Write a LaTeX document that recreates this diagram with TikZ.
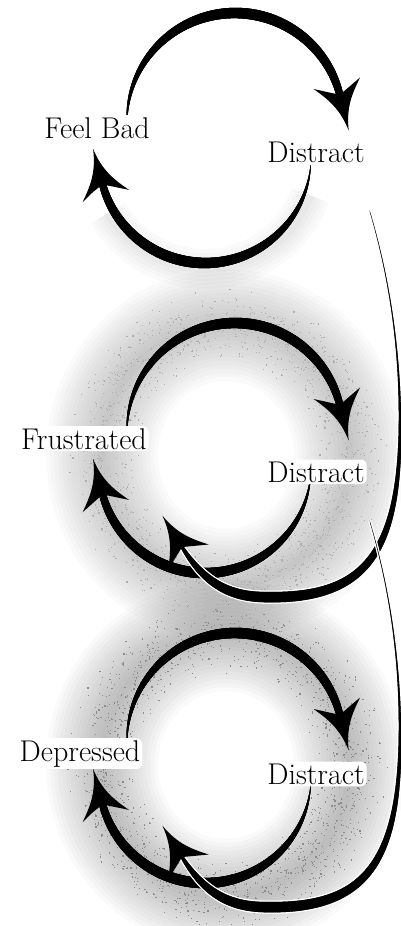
\documentclass[tikz,border=0pt]{standalone}
\usepackage{tikz}
\usetikzlibrary{decorations.markings, calc}

\colorlet{ink}{black!90}
\colorlet{speck}{black!45}

% swept arrow head, drawn in the frame of a mark (x = along the path)
\newcommand{\swepthead}{%
  \fill (37pt,0pt) .. controls (14pt,3pt) and (2pt,12pt) .. (-12pt,24pt)
      .. controls (-5pt,12pt) .. (0pt,0pt)
      .. controls (-5pt,-12pt) .. (-12pt,-24pt)
      .. controls (2pt,-12pt) and (14pt,-3pt) .. (37pt,0pt) -- cycle;}

\tikzset{
  % tapered stroke: {start width}{end width}{bulge}{exponent}
  brush/.style n args={4}{decorate, decoration={markings,
      mark=between positions 0 and 1 step 0.003 with {%
        \pgfmathsetmacro\tpos{(\pgfkeysvalueof{/pgf/decoration/mark info/sequence number}-1)*0.003}%
        \pgfmathsetmacro\brushw{#1*(1-\tpos)+#2*\tpos+#3*sin(180*\tpos^#4)}%
        \draw[line width=\brushw pt] (-1.7pt,0pt) -- (1.7pt,0pt);}}},
  % thin white rim under a brush stroke
  rim/.style n args={4}{decorate, decoration={markings,
      mark=between positions 0 and 1 step 0.003 with {%
        \pgfmathsetmacro\tpos{(\pgfkeysvalueof{/pgf/decoration/mark info/sequence number}-1)*0.003}%
        \pgfmathsetmacro\brushw{2.6+#1*(1-\tpos)+#2*\tpos+#3*sin(180*\tpos^#4)}%
        \draw[white, line width=\brushw pt] (-1.7pt,0pt) -- (1.7pt,0pt);}}},
  headmark/.style={decorate, decoration={markings,
      mark=at position 0.9999 with {\swepthead}}},
  feeling/.style={font=\fontsize{30}{34}\selectfont, fill=white, inner sep=2pt,
      rounded corners=6pt, anchor=base},
  haze/.style={ink, opacity=#1},
}

% one swept stroke: body and head
\newcommand{\sweep}[2]{%
  \path[brush=#1] #2;
  \path[headmark] #2;}

\begin{document}
\begin{tikzpicture}[x=1pt, y=-1pt]

    \useasboundingbox (0,0) rectangle (401,926);

    % Ring centres: upper arc (t) and lower arc (b) of each loop
    \coordinate (t1) at (235,121); \coordinate (b1) at (205,157);
    \coordinate (t2) at (235,431); \coordinate (b2) at (205,467);
    \coordinate (t3) at (235,741); \coordinate (b3) at (205,777);
    % Haze centres
    \coordinate (h2) at (226,455);
    \coordinate (h3) at (226,765);

    % --- HAZE ---
    \foreach \w in {8,16,...,40} {
        \draw[haze=0.02, line width=\w pt] ($(b1)+(20:112)$) arc[start angle=20, end angle=150, radius=112];
    }
    \foreach \w in {8,16,...,112} {
        \draw[haze=0.018, line width=\w pt] (h2) ellipse [x radius=124, y radius=130];
        \draw[haze=0.024, line width=\w pt] (h3) ellipse [x radius=124, y radius=130];
    }
    \pgfmathsetseed{17}
    \foreach \i in {1,...,1500} {
        \pgfmathsetmacro\ang{360*rnd}
        \pgfmathsetmacro\rad{1+0.15*(rand+rand)}
        \fill[speck!70!white] ($(h2)+({124*\rad*cos(\ang)},{130*\rad*sin(\ang)})$) rectangle ++(1.2,1.2);
        \fill[speck] ($(h3)+({124*\rad*sin(\ang)},{130*\rad*cos(\ang)})$) rectangle ++(1.2,1.2);
    }

    % --- LOOP 1 ---
    % Feel Bad -> Distract (over the top)
    \sweep{{0.3}{7}{6.5}{1}}{($(t1)+(178:108)$) arc[start angle=178, end angle=346, radius=108]}
    % Distract -> Feel Bad (round the bottom)
    \sweep{{0.3}{7}{6.5}{1}}{($(b1)+(5:106)$) arc[start angle=5, end angle=165, radius=106]}

    % --- LOOP 2 ---
    \sweep{{0.3}{7}{6.5}{1}}{($(t2)+(178:108)$) arc[start angle=178, end angle=346, radius=108]}
    \sweep{{0.3}{7}{6.5}{1}}{($(b2)+(5:106)$) arc[start angle=5, end angle=165, radius=106]}

    % --- LOOP 3 ---
    \sweep{{0.3}{7}{6.5}{1}}{($(t3)+(178:108)$) arc[start angle=178, end angle=346, radius=108]}
    \sweep{{0.3}{7}{6.5}{1}}{($(b3)+(5:106)$) arc[start angle=5, end angle=165, radius=106]}

    % --- LONG SWEEPS DOWN THE RIGHT SIDE ---
    \coordinate (s1) at (370,212); \coordinate (e2) at (182,547);
    \coordinate (s2) at (370,522); \coordinate (e3) at (182,857);
    \path[rim={0.2}{3}{8}{3}] (s1) .. controls (390,280) and (400,350) .. (400,425)
        .. controls (400,560) and (360,600) .. (262,597)
        .. controls (225,596) and (202,579) .. (e2);
    \sweep{{0.2}{3}{8}{3}}{(s1) .. controls (390,280) and (400,350) .. (400,425)
        .. controls (400,560) and (360,600) .. (262,597)
        .. controls (225,596) and (202,579) .. (e2)}
    \path[rim={0.2}{3}{8}{3}] (s2) .. controls (390,590) and (400,660) .. (400,735)
        .. controls (400,870) and (360,910) .. (262,907)
        .. controls (225,906) and (202,889) .. (e3);
    \sweep{{0.2}{3}{8}{3}}{(s2) .. controls (390,590) and (400,660) .. (400,735)
        .. controls (400,870) and (360,910) .. (262,907)
        .. controls (225,906) and (202,889) .. (e3)}

    % --- WORDS ---
    \node[feeling] (fb) at (97,138)  {Feel Bad};
    \node[feeling] (d1) at (316,162) {Distract};
    \node[feeling] (fr) at (84,449)  {Frustrated};
    \node[feeling] (d2) at (316,482) {Distract};
    \node[feeling] (dp) at (80,761)  {Depressed};
    \node[feeling] (d3) at (316,784) {Distract};

\end{tikzpicture}
\end{document}
